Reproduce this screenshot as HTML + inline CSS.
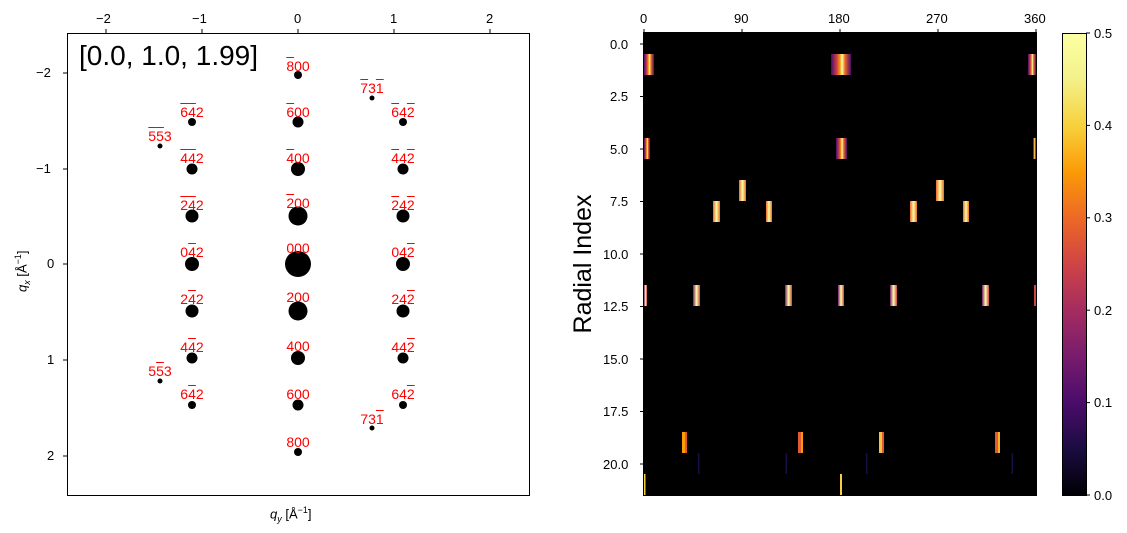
<!DOCTYPE html>
<html><head><style>
body{margin:0;background:#fff;width:1127px;height:533px;overflow:hidden;position:relative;font-family:"Liberation Sans","DejaVu Sans",sans-serif}
.l{position:absolute;color:#f00;font-size:14px;transform:translateX(-50%);white-space:nowrap;line-height:14px}
.o{text-decoration:overline}
.t{position:absolute;font-size:13px;color:#000;white-space:nowrap;line-height:13px}
</style></head><body>
<svg width="1127" height="533" style="position:absolute;left:0;top:0">
<defs><linearGradient id="inf" x1="0" y1="1" x2="0" y2="0">
<stop offset="0" stop-color="#000004"/><stop offset="0.1" stop-color="#1b0c41"/><stop offset="0.2" stop-color="#4a0c6b"/><stop offset="0.3" stop-color="#781c6d"/><stop offset="0.4" stop-color="#a52c60"/><stop offset="0.5" stop-color="#cf4446"/><stop offset="0.6" stop-color="#ed6925"/><stop offset="0.7" stop-color="#fb9b06"/><stop offset="0.8" stop-color="#f7d13d"/><stop offset="0.9" stop-color="#f3f18a"/><stop offset="1" stop-color="#fcffa4"/></linearGradient>
<linearGradient id="b1" x1="0" x2="1"><stop offset="0" stop-color="#4a0c6b"/><stop offset="0.3" stop-color="#cf4446"/><stop offset="0.45" stop-color="#fb9b06"/><stop offset="0.55" stop-color="#fcffa4"/><stop offset="0.7" stop-color="#ed6925"/><stop offset="1" stop-color="#4a0c6b"/></linearGradient>
<linearGradient id="b2" x1="0" x2="1"><stop offset="0" stop-color="#ed6925"/><stop offset="0.5" stop-color="#fcffa4"/><stop offset="1" stop-color="#ed6925"/></linearGradient>
<linearGradient id="b3" x1="0" x2="1"><stop offset="0" stop-color="#781c6d"/><stop offset="0.5" stop-color="#fcffa4"/><stop offset="1" stop-color="#cf4446"/></linearGradient>
</defs>
<rect x="67.5" y="33.5" width="462" height="462" fill="#fff" stroke="#000" stroke-width="1"/>
<g stroke="#000">
<line x1="106" y1="33" x2="106" y2="29"/><line x1="202" y1="33" x2="202" y2="29"/><line x1="298" y1="33" x2="298" y2="29"/><line x1="394" y1="33" x2="394" y2="29"/><line x1="490" y1="33" x2="490" y2="29"/>
<line x1="67" y1="73" x2="63" y2="73"/><line x1="67" y1="169" x2="63" y2="169"/><line x1="67" y1="264" x2="63" y2="264"/><line x1="67" y1="360" x2="63" y2="360"/><line x1="67" y1="456" x2="63" y2="456"/>
</g>
<g fill="#000">
<circle cx="298" cy="75" r="4"/><circle cx="298" cy="122" r="5.5"/><circle cx="298" cy="169" r="7"/><circle cx="298" cy="216" r="9.5"/><circle cx="298" cy="264" r="13"/><circle cx="298" cy="311" r="9.5"/><circle cx="298" cy="358" r="7"/><circle cx="298" cy="405" r="5.5"/><circle cx="298" cy="452" r="4"/>
<circle cx="192" cy="122" r="4"/><circle cx="192" cy="169" r="5.5"/><circle cx="192" cy="216" r="6.5"/><circle cx="192" cy="264" r="7"/><circle cx="192" cy="311" r="6.5"/><circle cx="192" cy="358" r="5.5"/><circle cx="192" cy="405" r="4"/>
<circle cx="403" cy="122" r="4"/><circle cx="403" cy="169" r="5.5"/><circle cx="403" cy="216" r="6.5"/><circle cx="403" cy="264" r="7"/><circle cx="403" cy="311" r="6.5"/><circle cx="403" cy="358" r="5.5"/><circle cx="403" cy="405" r="4"/>
<circle cx="160" cy="146" r="2.5"/><circle cx="160" cy="381" r="2.5"/><circle cx="372" cy="98" r="2.5"/><circle cx="372" cy="428" r="2.5"/>
</g>
<rect x="644" y="33" width="392" height="462" fill="#000"/>
<g>
<rect x="644" y="54" width="10" height="21" fill="url(#b1)"/><rect x="831" y="54" width="20" height="21" fill="url(#b1)"/><rect x="1028" y="54" width="8" height="21" fill="url(#b1)"/>
<rect x="644" y="138" width="6" height="21" fill="url(#b1)"/><rect x="836" y="138" width="11" height="21" fill="url(#b1)"/><rect x="1033" y="138" width="3" height="21" fill="url(#b1)"/>
<rect x="739" y="180" width="7" height="21" fill="url(#b2)"/><rect x="936" y="180" width="8" height="21" fill="url(#b2)"/>
<rect x="713" y="201" width="7" height="21" fill="url(#b2)"/><rect x="766" y="201" width="6" height="21" fill="url(#b2)"/><rect x="910" y="201" width="7" height="21" fill="url(#b2)"/><rect x="963" y="201" width="6" height="21" fill="url(#b2)"/>
<rect x="644" y="285" width="3" height="21" fill="url(#b3)"/><rect x="693" y="285" width="7" height="21" fill="url(#b3)"/><rect x="785" y="285" width="7" height="21" fill="url(#b3)"/><rect x="838" y="285" width="6" height="21" fill="url(#b3)"/><rect x="890" y="285" width="7" height="21" fill="url(#b3)"/><rect x="982" y="285" width="7" height="21" fill="url(#b3)"/><rect x="1034" y="285" width="2" height="21" fill="#cf4446"/>
<rect x="682" y="432" width="3" height="21" fill="#fb9b06"/><rect x="685" y="432" width="2" height="21" fill="#e05a35"/>
<rect x="798" y="432" width="3" height="21" fill="#e05a35"/><rect x="801" y="432" width="2" height="21" fill="#fb9b06"/>
<rect x="879" y="432" width="3" height="21" fill="#f7c23a"/><rect x="882" y="432" width="2" height="21" fill="#e05a35"/>
<rect x="995" y="432" width="3" height="21" fill="#e05a35"/><rect x="998" y="432" width="2" height="21" fill="#fbaf20"/>
<rect x="698" y="453" width="1.5" height="21" fill="#1b0c41"/><rect x="785.5" y="453" width="1.5" height="21" fill="#1b0c41"/><rect x="866" y="453" width="1.5" height="21" fill="#1b0c41"/><rect x="1011.5" y="453" width="1.5" height="21" fill="#1b0c41"/>
<rect x="644" y="474" width="1.5" height="21" fill="#f7d13d"/><rect x="840" y="474" width="2" height="21" fill="#f7d13d"/>
</g>
<rect x="643.5" y="32.5" width="393" height="463" fill="none" stroke="#000"/>
<g stroke="#000">
<line x1="644" y1="33" x2="644" y2="29"/><line x1="742" y1="33" x2="742" y2="29"/><line x1="840" y1="33" x2="840" y2="29"/><line x1="938" y1="33" x2="938" y2="29"/><line x1="1036" y1="33" x2="1036" y2="29"/>
<line x1="644" y1="44" x2="640" y2="44"/><line x1="644" y1="96.5" x2="640" y2="96.5"/><line x1="644" y1="149" x2="640" y2="149"/><line x1="644" y1="201.5" x2="640" y2="201.5"/><line x1="644" y1="254" x2="640" y2="254"/><line x1="644" y1="306.5" x2="640" y2="306.5"/><line x1="644" y1="359" x2="640" y2="359"/><line x1="644" y1="411.5" x2="640" y2="411.5"/><line x1="644" y1="464" x2="640" y2="464"/>
</g>
<rect x="1062" y="33" width="24" height="462" fill="url(#inf)"/>
<rect x="1062.5" y="33.5" width="24" height="462" fill="none" stroke="#000"/>
<g stroke="#000">
<line x1="1086" y1="495" x2="1090" y2="495"/><line x1="1086" y1="402.6" x2="1090" y2="402.6"/><line x1="1086" y1="310.2" x2="1090" y2="310.2"/><line x1="1086" y1="217.8" x2="1090" y2="217.8"/><line x1="1086" y1="125.4" x2="1090" y2="125.4"/><line x1="1086" y1="33" x2="1090" y2="33"/>
</g>
<text x="0" y="0" transform="translate(591 264) rotate(-90)" font-size="25" text-anchor="middle" font-family="Liberation Sans, sans-serif">Radial Index</text>
</svg>
<div class="t" style="left:96px;top:12px">−2</div><div class="t" style="left:192px;top:12px">−1</div><div class="t" style="left:294px;top:12px">0</div><div class="t" style="left:390px;top:12px">1</div><div class="t" style="left:486px;top:12px">2</div>
<div class="t" style="left:36px;top:66px">−2</div><div class="t" style="left:36px;top:162px">−1</div><div class="t" style="left:47px;top:257px">0</div><div class="t" style="left:47px;top:353px">1</div><div class="t" style="left:47px;top:449px">2</div>
<div class="t" style="left:270px;top:504px;font-size:13px"><i>q</i><sub style="font-size:9px"><i>y</i></sub> [Å<sup style="font-size:9px">−1</sup>]</div>
<div class="t" style="left:12px;top:292px;font-size:13px;transform:rotate(-90deg);transform-origin:left top"><i>q</i><sub style="font-size:9px"><i>x</i></sub> [Å<sup style="font-size:9px">−1</sup>]</div>
<div style="position:absolute;left:79px;top:40px;font-size:28px;line-height:32px">[0.0, 1.0, 1.99]</div>
<div class="t" style="left:640px;top:12px">0</div><div class="t" style="left:734px;top:12px">90</div><div class="t" style="left:828px;top:12px">180</div><div class="t" style="left:926px;top:12px">270</div><div class="t" style="left:1024px;top:12px">360</div>
<div class="t" style="left:610px;top:38px">0.0</div><div class="t" style="left:610px;top:90px">2.5</div><div class="t" style="left:610px;top:143px">5.0</div><div class="t" style="left:610px;top:195px">7.5</div><div class="t" style="left:603px;top:248px">10.0</div><div class="t" style="left:603px;top:300px">12.5</div><div class="t" style="left:603px;top:353px">15.0</div><div class="t" style="left:603px;top:405px">17.5</div><div class="t" style="left:603px;top:458px">20.0</div>
<div class="t" style="left:1094px;top:489px">0.0</div><div class="t" style="left:1094px;top:396px">0.1</div><div class="t" style="left:1094px;top:304px">0.2</div><div class="t" style="left:1094px;top:211px">0.3</div><div class="t" style="left:1094px;top:119px">0.4</div><div class="t" style="left:1094px;top:27px">0.5</div>
<div class="l" style="left:298px;top:59px"><span class="o">8</span>00</div>
<div class="l" style="left:298px;top:105px"><span class="o">6</span>00</div>
<div class="l" style="left:298px;top:151px"><span class="o">4</span>00</div>
<div class="l" style="left:298px;top:196px"><span class="o">2</span>00</div>
<div class="l" style="left:298px;top:241px">000</div>
<div class="l" style="left:298px;top:290px">200</div>
<div class="l" style="left:298px;top:339px">400</div>
<div class="l" style="left:298px;top:387px">600</div>
<div class="l" style="left:298px;top:435px">800</div>
<div class="l" style="left:192px;top:105px"><span class="o">6</span><span class="o">4</span>2</div>
<div class="l" style="left:192px;top:151px"><span class="o">4</span><span class="o">4</span>2</div>
<div class="l" style="left:192px;top:198px"><span class="o">2</span><span class="o">4</span>2</div>
<div class="l" style="left:192px;top:245px">0<span class="o">4</span>2</div>
<div class="l" style="left:192px;top:292px">2<span class="o">4</span>2</div>
<div class="l" style="left:192px;top:340px">4<span class="o">4</span>2</div>
<div class="l" style="left:192px;top:387px">6<span class="o">4</span>2</div>
<div class="l" style="left:403px;top:105px"><span class="o">6</span>4<span class="o">2</span></div>
<div class="l" style="left:403px;top:151px"><span class="o">4</span>4<span class="o">2</span></div>
<div class="l" style="left:403px;top:198px"><span class="o">2</span>4<span class="o">2</span></div>
<div class="l" style="left:403px;top:245px">04<span class="o">2</span></div>
<div class="l" style="left:403px;top:292px">24<span class="o">2</span></div>
<div class="l" style="left:403px;top:340px">44<span class="o">2</span></div>
<div class="l" style="left:403px;top:387px">64<span class="o">2</span></div>
<div class="l" style="left:160px;top:129px"><span class="o">5</span><span class="o">5</span>3</div>
<div class="l" style="left:160px;top:364px">5<span class="o">5</span>3</div>
<div class="l" style="left:372px;top:81px"><span class="o">7</span>3<span class="o">1</span></div>
<div class="l" style="left:372px;top:412px">73<span class="o">1</span></div>
</body></html>
